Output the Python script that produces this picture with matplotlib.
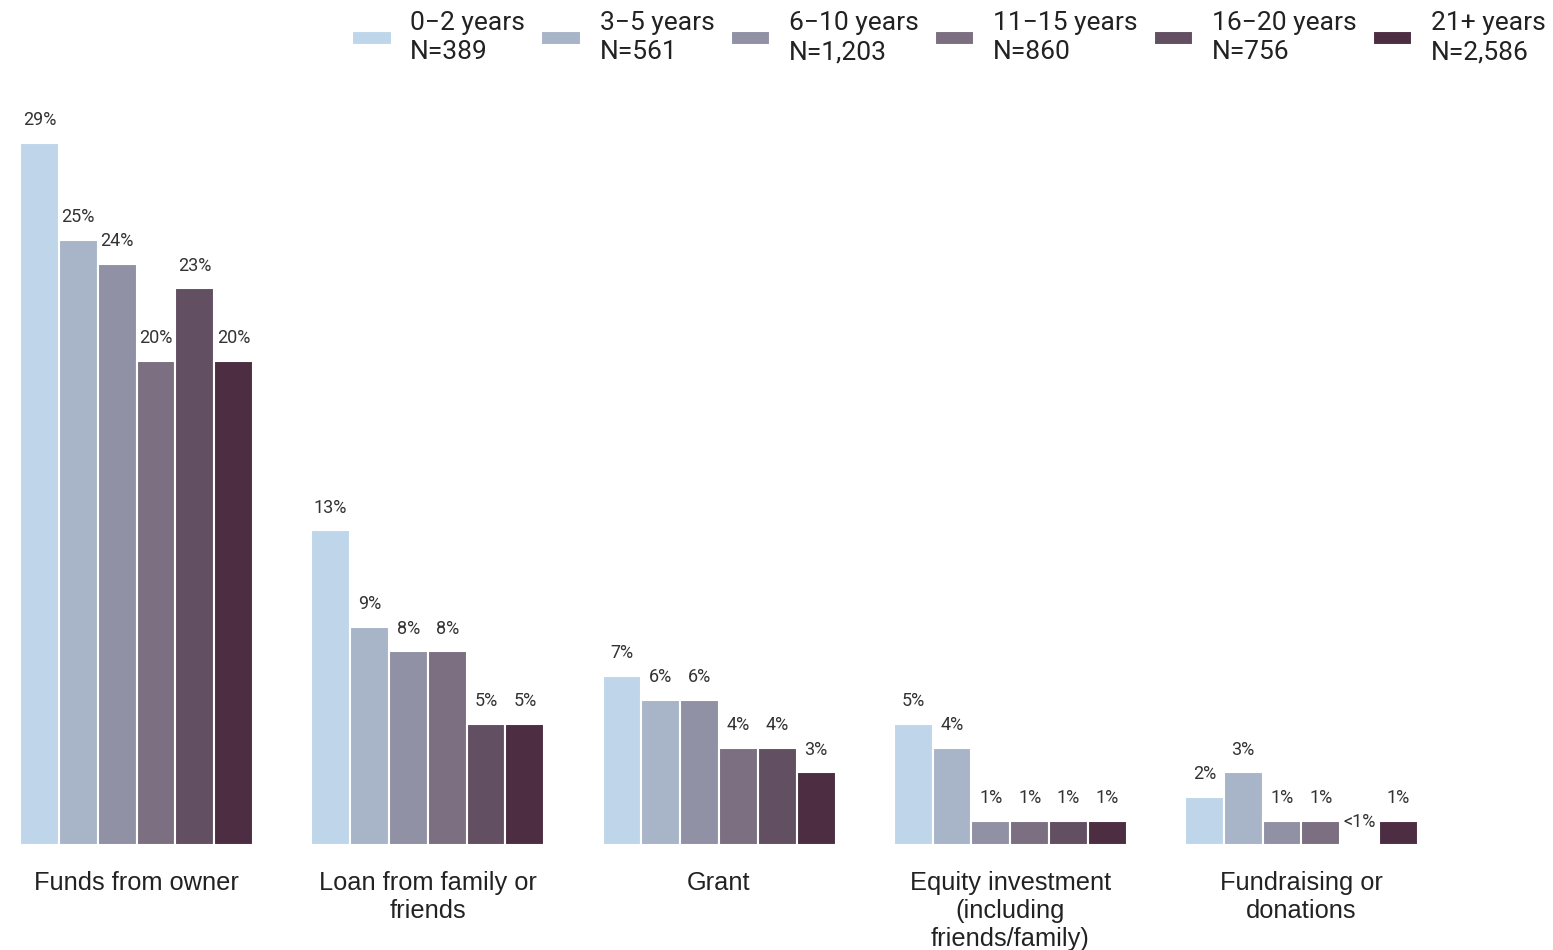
import numpy as np
import matplotlib
matplotlib.use("Agg")
import matplotlib.pyplot as plt

plt.rcParams['font.family'] = ['Roboto', 'DejaVu Sans']

categories = ["Funds from owner", "Loan from family or\nfriends", "Grant",
              "Equity investment\n(including\nfriends/family)", "Fundraising or\ndonations"]
groups = ["0\u22122 years\nN=389", "3\u22125 years\nN=561", "6\u221210 years\nN=1,203",
          "11\u221215 years\nN=860", "16\u221220 years\nN=756", "21+ years\nN=2,586"]
values = [
    [29, 13, 7, 5, 2],
    [25, 9, 6, 4, 3],
    [24, 8, 6, 1, 1],
    [20, 8, 4, 1, 1],
    [23, 5, 4, 1, 0],
    [20, 5, 3, 1, 1],
]
labels = [
    ["29%", "13%", "7%", "5%", "2%"],
    ["25%", "9%", "6%", "4%", "3%"],
    ["24%", "8%", "6%", "1%", "1%"],
    ["20%", "8%", "4%", "1%", "1%"],
    ["23%", "5%", "4%", "1%", "<1%"],
    ["20%", "5%", "3%", "1%", "1%"],
]
colors = ["#bfd6ea", "#a8b5c9", "#9191a5", "#7b6f81", "#634f62", "#4c2d41"]

fig = plt.figure(figsize=(15.53, 9.5), dpi=100)
ax = fig.add_axes([20 / 1553, 1 - 845 / 950, (1418 - 20) / 1553, (845 - 90) / 950])

x = np.arange(len(categories))
w = 0.8 / len(groups)
for i, (g, v) in enumerate(zip(groups, values)):
    bars = ax.bar(x - 0.4 + w * (i + 0.5), v, width=w, color=colors[i],
                  edgecolor="white", linewidth=1.5, label=g)
    ax.bar_label(bars, labels=labels[i], padding=10, fontsize=13, color="#333333")

ax.set_xlim(-0.4, 4.4)
ax.set_ylim(0, 31.2)
ax.set_xticks(x)
ax.set_xticklabels(categories, fontsize=18.3, color="#222222", linespacing=1.2,
                   family=["Liberation Sans", "DejaVu Sans"])
ax.tick_params(axis="x", length=0, pad=19)
ax.set_yticks([])
for s in ax.spines.values():
    s.set_visible(False)

leg = fig.legend(loc="upper right", bbox_to_anchor=(1.0105, 1.013), ncol=6, frameon=False,
                 fontsize=19, handlelength=1.5, handleheight=0.45, columnspacing=0.62,
                 handletextpad=0.7, labelspacing=0.2, labelcolor="#222222")
for t in leg.get_texts():
    t.set_linespacing(1.25)

fig.savefig("out.png", dpi=100)
